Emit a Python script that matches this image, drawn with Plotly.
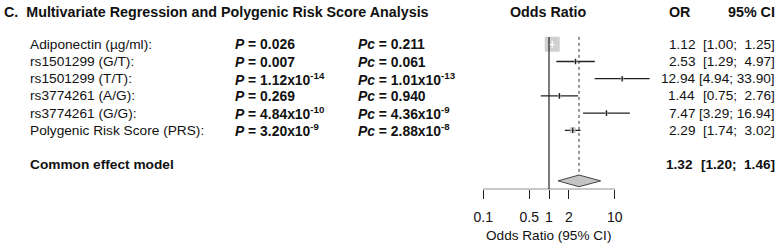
import math
import plotly.graph_objects as go

# ---------------- data ----------------
labels = ["Adiponectin (µg/ml):", "rs1501299 (G/T):", "rs1501299 (T/T):",
          "rs3774261 (A/G):", "rs3774261 (G/G):", "Polygenic Risk Score (PRS):"]
p_text = ["0.026", "0.007", "1.12x10<sup>-14</sup>", "0.269",
          "4.84x10<sup>-10</sup>", "3.20x10<sup>-9</sup>"]
pc_text = ["0.211", "0.061", "1.01x10<sup>-13</sup>", "0.940",
           "4.36x10<sup>-9</sup>", "2.88x10<sup>-8</sup>"]
or_vals = [1.12, 2.53, 12.94, 1.44, 7.47, 2.29]
ci_lo = [1.00, 1.29, 4.94, 0.75, 3.29, 1.74]
ci_hi = [1.25, 4.97, 33.90, 2.76, 16.94, 3.02]
pooled_or, pooled_lo, pooled_hi = 1.32, 1.20, 1.46
# diamond / dashed line as drawn in the picture
diamond_est, diamond_lo, diamond_hi = 2.86, 1.37, 6.1
tick_vals = [0.1, 0.5, 1, 2, 10]
tick_text = ["0.1", "0.5", "1", "2", "10"]

# ---------------- layout helpers ----------------
W, H = 781, 246
FONT = "Liberation Sans, Arial, sans-serif"
TXT = "#111111"
FS_T = 14.3
FS_L = 13.7
FS_P = 13.9
FS_R = 13.6
NB = "\u00a0"
row0_px, row_step = 44.3, 17.2
top_px, bot_px = 30.0, 189.3
x0_px, dec_px = 549.0, 65.8          # pixel of OR=1, pixels per decade
xl, xr = -1.3, 1.6                   # log10 range of plot area

def px(v):
    return v / W

rows = list(range(len(labels)))
pooled_row = 7
diamond_row = 7.94

yr_top = (top_px - row0_px) / row_step
yr_bot = (bot_px - row0_px) / row_step

fig = go.Figure()

# weights (inverse variance) for square sizes
se = [(math.log(h) - math.log(l)) / 3.92 for l, h in zip(ci_lo, ci_hi)]
w = [1 / s ** 2 for s in se]
wmax = max(w)
sizes = [max(15 * math.sqrt(wi / wmax), 3.5) for wi in w]

# CI lines
for i in rows:
    fig.add_trace(go.Scatter(x=[ci_lo[i], ci_hi[i]], y=[i, i], mode="lines",
                             line=dict(color="#222222", width=1.3),
                             hoverinfo="skip", showlegend=False))
# squares
fig.add_trace(go.Scatter(x=or_vals, y=rows, mode="markers",
                         marker=dict(symbol="square", size=sizes, color="#bcbcbc",
                                     line=dict(width=0)),
                         showlegend=False, hoverinfo="skip"))
# white CI inside big squares, black centre tick otherwise
for i in rows:
    half_log = sizes[i] / 2 / dec_px
    inside = (math.log10(ci_lo[i]) >= math.log10(or_vals[i]) - half_log and
              math.log10(ci_hi[i]) <= math.log10(or_vals[i]) + half_log)
    col = "white" if inside else "#222222"
    if inside:
        fig.add_trace(go.Scatter(x=[ci_lo[i], ci_hi[i]], y=[i, i], mode="lines",
                                 line=dict(color=col, width=1.2),
                                 hoverinfo="skip", showlegend=False))
    fig.add_trace(go.Scatter(x=[or_vals[i]], y=[i], mode="markers",
                             marker=dict(symbol="line-ns", size=5 if inside else 4,
                                         line=dict(color=col, width=1.3)),
                             hoverinfo="skip", showlegend=False))

# diamond
dh = 0.34
fig.add_trace(go.Scatter(x=[diamond_lo, diamond_est, diamond_hi, diamond_est, diamond_lo],
                         y=[diamond_row, diamond_row - dh, diamond_row, diamond_row + dh, diamond_row],
                         mode="lines", fill="toself", fillcolor="#c4c4c4",
                         line=dict(color="#444444", width=1),
                         hoverinfo="skip", showlegend=False))

shapes = [
    dict(type="line", xref="x", yref="y", x0=1, x1=1, y0=rows[0] - 0.43, y1=yr_bot,
         line=dict(color="#222222", width=1.2)),
    dict(type="line", xref="x", yref="y", x0=diamond_est, x1=diamond_est,
         y0=rows[0] - 0.43, y1=diamond_row - dh,
         line=dict(color="#333333", width=1, dash="dot")),
    dict(type="line", xref="x", yref="y", x0=tick_vals[0], x1=tick_vals[-1],
         y0=yr_bot, y1=yr_bot, line=dict(color="#222222", width=1.2)),
]

ann = []
def add(text, x, y, xanchor="left", yref="y", size=FS_L):
    ann.append(dict(text=text, x=x, y=y, xref="paper", yref=yref, xanchor=xanchor,
                    yanchor="middle", showarrow=False,
                    font=dict(family=FONT, size=size, color=TXT)))

def ci_str(lo, hi):
    return f"[{lo:.2f};{NB}" + f"{hi:5.2f}".replace(" ", NB) + "]"

# headers
hy = (H - 12) / H
add("<b>C.  Multivariate Regression and Polygenic Risk Score Analysis</b>", px(2), hy, yref="paper", size=FS_T)
add("<b>Odds Ratio</b>", px(548), hy, "center", yref="paper", size=FS_T)
add("<b>OR</b>", px(692.5), hy, "right", yref="paper", size=FS_T)
add("<b>95% CI</b>", px(777), hy, "right", yref="paper", size=FS_T)

for i in rows:
    add(labels[i], px(28), i)
    add("<b><i>P</i> = " + p_text[i] + "</b>", px(232.5), i, size=FS_P)
    add("<b><i>Pc</i> = " + pc_text[i] + "</b>", px(355.5), i, size=FS_P)
    add(f"{or_vals[i]:.2f}", px(697), i, "right", size=FS_R)
    add(ci_str(ci_lo[i], ci_hi[i]), px(777), i, "right", size=FS_R)

add("<b>Common effect model</b>", px(28), pooled_row)
add(f"<b>{pooled_or:.2f}</b>", px(695), pooled_row, "right", size=FS_R)
add("<b>" + ci_str(pooled_lo, pooled_hi) + "</b>", px(777), pooled_row, "right", size=FS_R)

add("Odds Ratio (95% CI)", px(548), (H - 235) / H, "center", yref="paper", size=FS_R)

fig.update_layout(
    width=W, height=H, margin=dict(l=0, r=0, t=0, b=0),
    paper_bgcolor="white", plot_bgcolor="white",
    shapes=shapes, annotations=ann, showlegend=False,
    xaxis=dict(type="log", range=[xl, xr],
               domain=[(x0_px + xl * dec_px) / W, (x0_px + xr * dec_px) / W],
               tickvals=tick_vals, ticktext=tick_text, ticks="outside", ticklen=9,
               tickcolor="#222222", tickwidth=1.2, showgrid=False, zeroline=False,
               showline=False, ticklabelstandoff=6,
               tickfont=dict(family=FONT, size=14, color=TXT)),
    yaxis=dict(range=[yr_bot, yr_top], domain=[(H - bot_px) / H, (H - top_px) / H],
               showgrid=False, zeroline=False, showline=False, showticklabels=False,
               ticks=""),
)

fig.write_html("out.html")
